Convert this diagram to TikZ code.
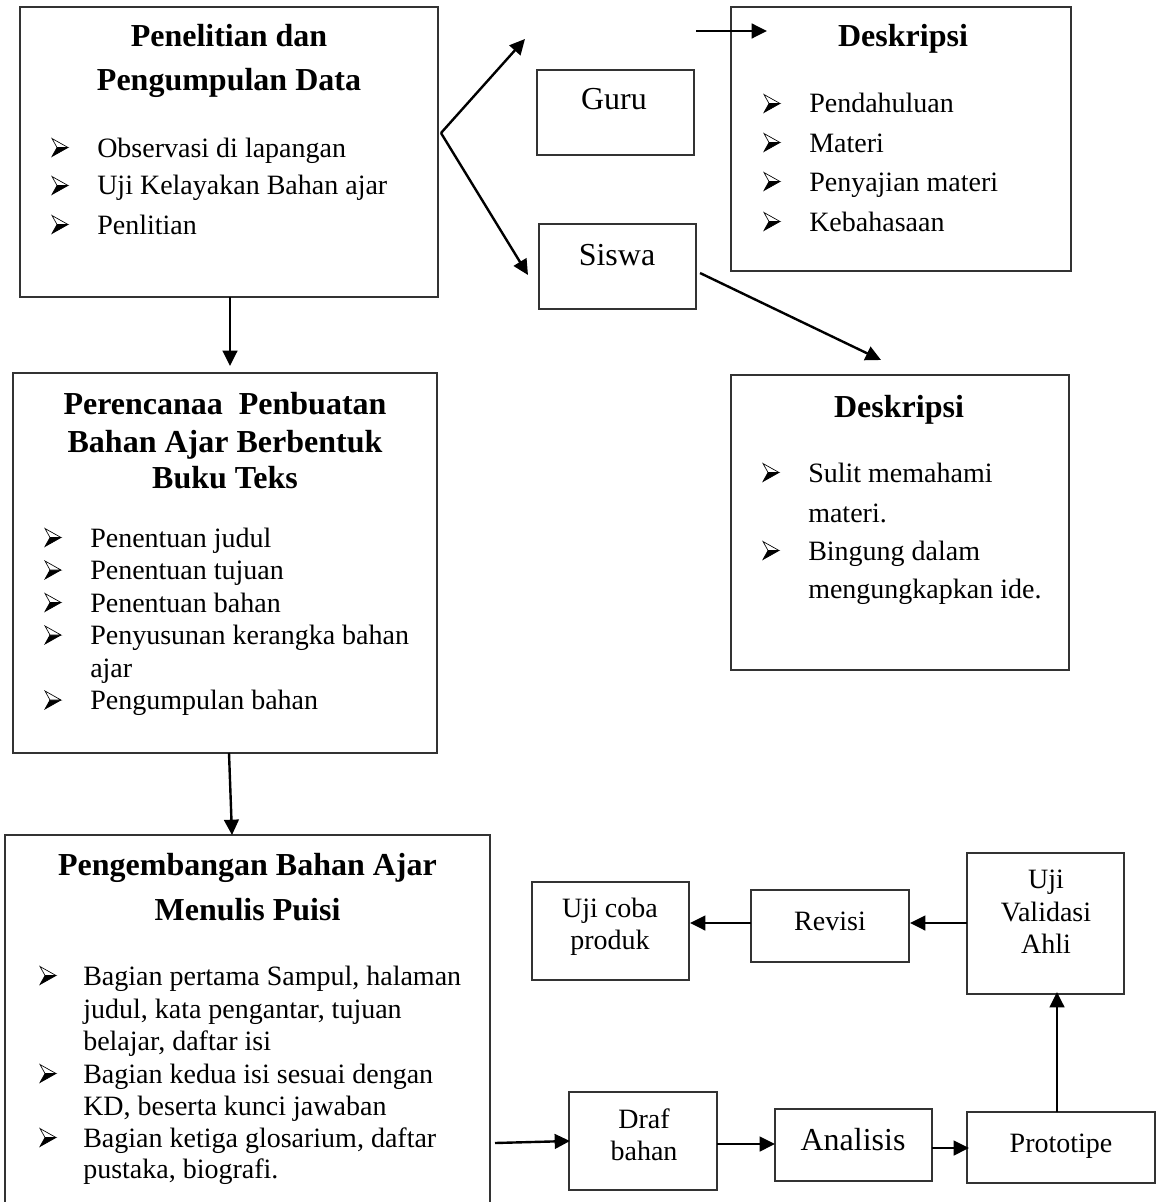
\documentclass[tikz,border=0pt]{standalone}
\usepackage{fontspec}
\setmainfont{Liberation Serif}
\usetikzlibrary{arrows.meta}
\tikzset{
  box/.style={draw=black!80, line width=1pt, inner sep=0pt, rectangle},
  arr/.style={line width=1.8pt, -{Triangle[length=11.5pt,width=11pt]}},
  body/.style={font=\fontsize{21}{25}\selectfont, inner sep=0pt},
  ttl/.style={font=\fontsize{24}{28}\selectfont\bfseries, inner sep=0pt},
  big/.style={font=\fontsize{24}{28}\selectfont, inner sep=0pt},
  arrbul/.pic={
    \fill[black] (8,0) -- (-8,9) -- (-3,0) -- cycle;
    \draw[line width=0.5pt, fill=white, line join=miter] (8,0) -- (-8,-9) -- (-3,0) -- cycle;
    \draw[line width=0.5pt, line join=miter] (8,0) -- (-8,9) -- (-3,0);
  }
}
\newcommand{\boxnode}[5]{%
  \pgfmathsetmacro{\myBW}{(#4-#2)*0.75}%
  \pgfmathsetmacro{\myBH}{(#5-#3)*0.75}%
  \node[box, minimum width=\myBW pt, minimum height=\myBH pt] (#1) at ({(#2+#4)/2},{(#3+#5)/2}) {};}
\newcommand{\bitem}[5]{%
  \pic at (#2,{#4-9.5}) {arrbul};
  \node[body, anchor=base west] (#1) at (#3,#4) {#5};}
\newcommand{\contline}[4]{\node[body, anchor=base west] (#1) at (#2,#3) {#4};}
\begin{document}
\begin{tikzpicture}[x=0.75pt, y=-0.75pt]
\useasboundingbox (0,0) rectangle (1156,1202);
\clip (0,0) rectangle (1156,1202);
\fill[white] (0,0) rectangle (1156,1202);

% Box 1
\boxnode{res}{20}{7}{438}{297}
\node[ttl, anchor=base] (resT1) at (229,47) {Penelitian dan};
\node[ttl, anchor=base] (resT2) at (229,91) {Pengumpulan Data};
\bitem{resA}{60}{97}{157}{Observasi di lapangan}
\bitem{resB}{60}{97}{195}{Uji Kelayakan Bahan ajar}
\bitem{resC}{60}{97}{234}{Penlitian}

% Guru / Siswa
\boxnode{guru}{537}{70}{694}{155}
\node[big, anchor=base] (guruT) at (614,110) {Guru};
\boxnode{siswa}{539}{224}{696}{309}
\node[big, anchor=base] (siswaT) at (617,265) {Siswa};

% Deskripsi 1
\boxnode{desA}{731}{7}{1071}{271}
\node[ttl, anchor=base] (desAT) at (903,47) {Deskripsi};
\bitem{desA1}{772}{809}{113}{Pendahuluan}
\bitem{desA2}{772}{809}{152}{Materi}
\bitem{desA3}{772}{809}{191}{Penyajian materi}
\bitem{desA4}{772}{809}{231}{Kebahasaan}

% Deskripsi 2
\boxnode{desB}{731}{375}{1069}{670}
\node[ttl, anchor=base] (desBT) at (899,417) {Deskripsi};
\bitem{desB1}{771}{808}{482}{Sulit memahami}
\contline{desB1c}{808}{522}{materi.}
\bitem{desB2}{771}{808}{560}{Bingung dalam}
\contline{desB2c}{808}{598}{mengungkapkan ide.}

% Box 2
\boxnode{plan}{13}{373}{437}{753}
\node[ttl, anchor=base] (planT1) at (225,414) {Perencanaa~ Penbuatan};
\node[ttl, anchor=base] (planT2) at (225,452) {Bahan Ajar Berbentuk};
\node[ttl, anchor=base] (planT3) at (225,488) {Buku Teks};
\bitem{plan1}{53}{90}{547}{Penentuan judul}
\bitem{plan2}{53}{90}{579.5}{Penentuan tujuan}
\bitem{plan3}{53}{90}{612}{Penentuan bahan}
\bitem{plan4}{53}{90}{644.5}{Penyusunan kerangka bahan}
\contline{plan4c}{90}{677}{ajar}
\bitem{plan5}{53}{90}{709.5}{Pengumpulan bahan}

% Box 3
\boxnode{dev}{5}{835}{490}{1215}
\node[ttl, anchor=base] (devT1) at (247.5,875) {Pengembangan Bahan Ajar};
\node[ttl, anchor=base] (devT2) at (247.5,920) {Menulis Puisi};
\bitem{dev1}{48}{83}{985}{Bagian pertama Sampul, halaman}
\contline{dev1c}{83}{1018}{judul, kata pengantar, tujuan}
\contline{dev1d}{83}{1050}{belajar, daftar isi}
\bitem{dev2}{48}{83}{1083}{Bagian kedua isi sesuai dengan}
\contline{dev2c}{83}{1115}{KD, beserta kunci jawaban}
\bitem{dev3}{48}{83}{1147}{Bagian ketiga glosarium, daftar}
\contline{dev3c}{83}{1178}{pustaka, biografi.}

% Bottom-right boxes
\boxnode{uji}{532}{882}{689}{980}
\node[body, anchor=base] (ujiT1) at (610,917) {Uji coba};
\node[body, anchor=base] (ujiT2) at (610,949) {produk};
\boxnode{rev}{751}{890}{909}{962}
\node[body, anchor=base] (revT) at (830,930) {Revisi};
\boxnode{val}{967}{853}{1124}{994}
\node[body, anchor=base] (valT1) at (1046,888) {Uji};
\node[body, anchor=base] (valT2) at (1046,921) {Validasi};
\node[body, anchor=base] (valT3) at (1046,953) {Ahli};
\boxnode{draf}{569}{1092}{717}{1190}
\node[body, anchor=base] (drafT1) at (644,1128) {Draf};
\node[body, anchor=base] (drafT2) at (644,1160) {bahan};
\boxnode{ana}{775}{1109}{932}{1181}
\node[big, anchor=base] (anaT) at (853,1150) {Analisis};
\boxnode{pro}{967}{1112}{1155}{1183}
\node[body, anchor=base] (proT) at (1061,1152) {Prototipe};

% Connector end points
\coordinate (fork) at (441,133);
\coordinate (upEnd) at (525,39);
\coordinate (sisEnd) at (528,275);
\coordinate (dsStart) at (696,31);
\coordinate (dsEnd) at (767,31);
\coordinate (swStart) at (700,273);
\coordinate (swEnd) at (881,360);
\coordinate (r2a) at (230,297);
\coordinate (r2b) at (230,366);
\coordinate (p3a) at (229,753);
\coordinate (p3b) at (232,835);
\coordinate (d4a) at (495,1143);
\coordinate (d4b) at (570,1141);
\coordinate (da1) at (717,1144);
\coordinate (da2) at (775,1144);
\coordinate (ap1) at (932,1148);
\coordinate (ap2) at (969,1148);
\coordinate (pv1) at (1057,1112);
\coordinate (pv2) at (1057,992);
\coordinate (vr1) at (967,923);
\coordinate (vr2) at (910,923);
\coordinate (ru1) at (751,923);
\coordinate (ru2) at (690,923);

\draw[arr] (fork) -- (upEnd);
\draw[arr] (fork) -- (sisEnd);
\draw[arr] (dsStart) -- (dsEnd);
\draw[arr] (swStart) -- (swEnd);
\draw[arr] (r2a) -- (r2b);
\draw[arr] (p3a) -- (p3b);
\draw[arr] (d4a) -- (d4b);
\draw[arr] (da1) -- (da2);
\draw[arr] (ap1) -- (ap2);
\draw[arr] (pv1) -- (pv2);
\draw[arr] (vr1) -- (vr2);
\draw[arr] (ru1) -- (ru2);
\end{tikzpicture}
\end{document}
